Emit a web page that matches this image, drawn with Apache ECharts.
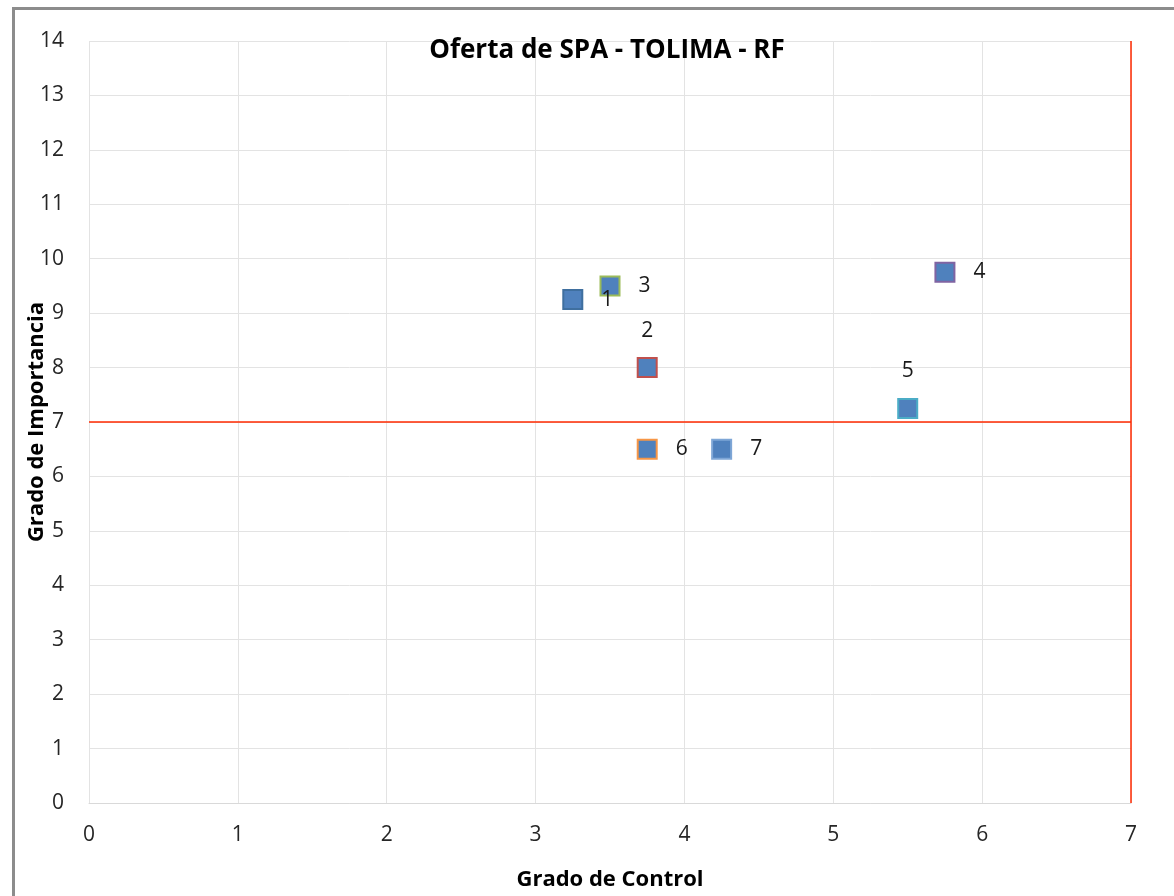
<!DOCTYPE html>
<html>
<head>
<meta charset="utf-8">
<script src="https://cdn.jsdelivr.net/npm/echarts@6/dist/echarts.min.js"></script>
<style>
  html, body { margin: 0; padding: 0; background: #fff; overflow: hidden; }
  #frame { position: absolute; left: 12px; top: 7px; width: 1200px; height: 920px;
           border-left: 3px solid #8c8c8c; border-top: 3px solid #8c8c8c; }
  #chart { position: absolute; left: 0; top: 0; width: 1174px; height: 896px; }
</style>
</head>
<body>
<div id="frame"></div>
<div id="chart"></div>
<script>
// puntos (Grado de Control, Grado de Importancia)
var pointNames = ["1", "2", "3", "4", "5", "6", "7"];
var controlValues = [3.25, 3.75, 3.5, 5.75, 5.5, 3.75, 4.25];
var importanceValues = [9.25, 8, 9.5, 9.75, 7.25, 6.5, 6.5];
var borderColors = ["#3f6f9f", "#c0504d", "#9bbb59", "#8064a2", "#4bacc6", "#f79646", "#7ea6d6"];
var labelSides = ["right", "top", "right", "right", "top", "right", "right"];
var xTicks = [0, 1, 2, 3, 4, 5, 6, 7];
var yTicks = [0, 1, 2, 3, 4, 5, 6, 7, 8, 9, 10, 11, 12, 13, 14];
var cutImportance = 7;
var cutControl = 7;

var chart = echarts.init(document.getElementById("chart"));
var font = "'Open Sans', 'Noto Sans', sans-serif";

var series = [];
for (var i = 0; i < pointNames.length; i++) {
  series.push({
    name: pointNames[i],
    type: "scatter",
    symbol: "rect",
    symbolSize: 19,
    itemStyle: { color: "#4f81bd", borderColor: borderColors[i], borderWidth: 2, opacity: 1 },
    label: {
      show: true,
      position: labelSides[i],
      distance: labelSides[i] == "top" ? 16 : 18,
      formatter: pointNames[i],
      color: "#1a1a1a",
      fontSize: 21,
      fontFamily: font
    },
    data: [[controlValues[i], importanceValues[i]]],
    z: 5
  });
}
// lineas de corte
series.push({
  type: "line", symbol: "none", silent: true,
  lineStyle: { color: "#ff2a00", width: 1.5 },
  data: [[xTicks[0], cutImportance], [xTicks[xTicks.length - 1], cutImportance]],
  z: 3
});
series.push({
  type: "line", symbol: "none", silent: true,
  lineStyle: { color: "#ff2a00", width: 1.5 },
  data: [[cutControl, yTicks[0]], [cutControl, yTicks[yTicks.length - 1]]],
  z: 3
});

var option = {
  backgroundColor: "transparent",
  animation: false,
  title: {
    text: "Oferta de SPA - TOLIMA - RF",
    left: 602, top: 33, textAlign: "center",
    textStyle: { fontFamily: font, fontSize: 26, fontWeight: "bold", color: "#000" }
  },
  grid: { left: 89, right: 43, top: 41, bottom: 92 },
  xAxis: {
    type: "value", min: 0, max: 7, interval: 1,
    name: "Grado de Control", nameLocation: "middle", nameGap: 66, nameMoveOverlap: false,
    nameTextStyle: { fontFamily: font, fontSize: 22, fontWeight: "bold", color: "#000" },
    axisLine: { show: true, lineStyle: { color: "#d9d9d9" } },
    axisTick: { show: false },
    axisLabel: { fontFamily: font, fontSize: 21, color: "#262626", margin: 22 },
    splitLine: { show: true, lineStyle: { color: "#e3e3e3" } }
  },
  yAxis: {
    type: "value", min: 0, max: 14, interval: 1,
    name: "Grado de Importancia", nameLocation: "middle", nameGap: 41, nameMoveOverlap: false,
    nameTextStyle: { fontFamily: font, fontSize: 22, fontWeight: "bold", color: "#000" },
    axisLine: { show: false },
    axisTick: { show: false },
    axisLabel: { fontFamily: font, fontSize: 21, color: "#262626", margin: 25 },
    splitLine: { show: true, lineStyle: { color: "#e3e3e3" } }
  },
  series: series
};
chart.setOption(option);
</script>
</body>
</html>
